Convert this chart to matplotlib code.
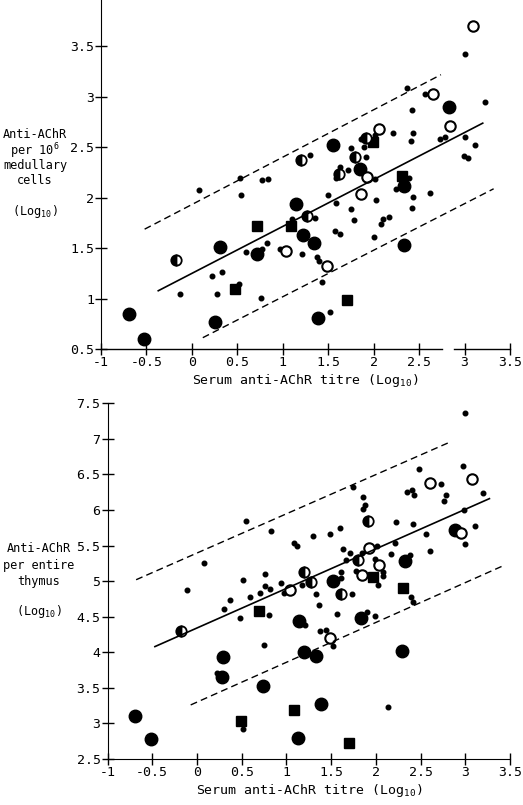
import matplotlib
matplotlib.use("Agg")
import matplotlib.pyplot as plt

plt.rcParams['font.family'] = ['DejaVu Sans Mono', 'DejaVu Sans']
plt.rcParams['mathtext.fontset'] = 'dejavusans'

# ---- top panel: anti-AChR per 10^6 medullary cells ----
top_small_x = [-0.13, 0.08, 0.22, 0.33, 0.28, 0.52, 0.53, 0.54, 0.60, 0.77, 0.83, 0.77, 0.84, 0.76,
               0.97, 1.10, 1.21, 1.30, 1.35, 1.38, 1.40, 1.43, 1.52, 1.50, 1.59, 1.57, 1.63, 1.63,
               1.59, 1.72, 1.75, 1.75, 1.78, 1.86, 1.89, 1.92, 2.01, 2.02, 2.03, 2.00, 2.08, 2.10,
               2.17, 2.21, 2.25, 2.39, 2.41, 2.42, 2.43, 2.43, 2.42, 2.37, 2.57, 2.62, 2.73, 2.79,
               3.01, 3.01, 3.12, 2.99, 3.04, 3.23]
top_small_y = [1.05, 2.08, 1.23, 1.27, 1.05, 1.15, 2.20, 2.03, 1.46, 1.49, 1.55, 2.18, 2.19, 1.01,
               1.49, 1.79, 1.44, 2.42, 1.80, 1.41, 1.37, 1.17, 0.87, 2.03, 1.95, 1.67, 1.64, 2.31,
               2.20, 2.28, 2.49, 1.89, 1.78, 2.58, 2.50, 2.40, 2.62, 2.19, 1.98, 1.61, 1.74, 1.79,
               1.81, 2.64, 2.09, 2.20, 2.56, 2.87, 2.64, 2.01, 1.90, 3.09, 3.03, 2.05, 2.58, 2.60,
               3.43, 2.60, 2.52, 2.41, 2.39, 2.95]
top_big_x = [-0.69, -0.53, 0.31, 0.25, 0.72, 1.15, 1.22, 1.34, 1.39, 1.55, 1.85, 2.33, 2.33, 2.83]
top_big_y = [0.85, 0.60, 1.51, 0.77, 1.44, 1.94, 1.63, 1.55, 0.81, 2.52, 2.29, 2.12, 1.53, 2.90]
top_sq_x = [0.47, 0.72, 1.09, 1.71, 1.99, 2.31]
top_sq_y = [1.10, 1.72, 1.72, 0.99, 2.55, 2.22]
top_open_x = [1.04, 1.49, 1.86, 1.93, 2.06, 2.65, 2.84, 3.09]
top_open_y = [1.47, 1.33, 2.04, 2.21, 2.68, 3.03, 2.71, 3.70]
top_half_x = [-0.18, 1.20, 1.27, 1.62, 1.80, 1.92]
top_half_y = [1.38, 2.38, 1.82, 2.24, 2.40, 2.59]
top_fit_x, top_fit_y = [-0.37, 3.20], [1.08, 2.74]
top_upper_x, top_upper_y = [-0.52, 2.74], [1.69, 3.22]
top_lower_x, top_lower_y = [0.12, 3.32], [0.615, 2.09]

# ---- bottom panel: anti-AChR per entire thymus ----
bot_small_x = [-0.11, 0.08, 0.22, 0.30, 0.37, 0.48, 0.52, 0.52, 0.55, 0.59, 0.70, 0.76, 0.76, 0.82,
               0.81, 0.75, 0.83, 0.94, 0.97, 1.08, 1.12, 1.18, 1.21, 1.30, 1.33, 1.37, 1.38, 1.44,
               1.49, 1.52, 1.57, 1.60, 1.61, 1.61, 1.63, 1.67, 1.71, 1.73, 1.75, 1.78, 1.85, 1.86,
               1.88, 1.86, 1.90, 1.99, 1.99, 2.01, 2.02, 2.08, 2.08, 2.14, 2.17, 2.21, 2.22, 2.35,
               2.40, 2.43, 2.38, 2.39, 2.41, 2.42, 2.48, 2.56, 2.60, 2.73, 2.78, 2.76, 2.97, 3.00,
               2.99, 3.00, 3.11, 3.20]
bot_small_y = [4.87, 5.26, 3.71, 4.61, 4.74, 4.48, 2.92, 5.02, 5.85, 4.78, 4.83, 5.10, 4.93, 4.89,
               4.53, 4.10, 5.71, 4.97, 4.84, 5.53, 5.50, 4.95, 4.38, 5.63, 4.82, 4.66, 4.30, 4.32,
               5.66, 4.09, 4.54, 5.75, 5.05, 5.13, 5.45, 5.30, 5.39, 4.82, 6.32, 5.14, 5.40, 6.18,
               6.07, 6.01, 4.57, 5.31, 4.51, 5.49, 4.94, 5.13, 5.07, 3.23, 5.38, 5.53, 5.83, 6.26,
               6.28, 6.21, 5.37, 4.78, 4.71, 5.80, 6.57, 5.66, 5.42, 6.37, 6.21, 6.13, 6.62, 7.36,
               6.00, 5.52, 5.78, 6.24]
bot_big_x = [-0.69, -0.51, 0.29, 0.28, 0.74, 1.13, 1.14, 1.20, 1.33, 1.39, 1.52, 1.83, 2.29, 2.33, 2.88]
bot_big_y = [3.10, 2.78, 3.94, 3.65, 3.52, 2.79, 4.44, 4.00, 3.95, 3.28, 5.00, 4.48, 4.02, 5.29, 5.72]
bot_sq_x = [0.49, 0.69, 1.08, 1.70, 1.97, 2.30]
bot_sq_y = [3.03, 4.58, 3.19, 2.73, 5.06, 4.91]
bot_open_x = [1.04, 1.49, 1.85, 1.92, 2.04, 2.60, 2.95, 3.08]
bot_open_y = [4.88, 4.20, 5.08, 5.46, 5.23, 6.38, 5.67, 6.43]
bot_half_x = [-0.18, 1.20, 1.28, 1.61, 1.80, 1.91]
bot_half_y = [4.30, 5.13, 4.99, 4.82, 5.30, 5.84]
bot_fit_x, bot_fit_y = [-0.47, 3.27], [4.08, 6.16]
bot_upper_x, bot_upper_y = [-0.68, 2.82], [5.02, 6.95]
bot_lower_x, bot_lower_y = [-0.07, 3.43], [3.26, 5.22]

xticks = [-1, -0.5, 0, 0.5, 1, 1.5, 2, 2.5, 3, 3.5]
xtick_labels = ['-1', '-0.5', '0', '0.5', '1', '1.5', '2', '2.5', '3', '3.5']
top_yticks = [0.5, 1, 1.5, 2, 2.5, 3, 3.5]
top_ytick_labels = ['0.5', '1', '1.5', '2', '2.5', '3', '3.5']
bot_yticks = [2.5, 3, 3.5, 4, 4.5, 5, 5.5, 6, 6.5, 7, 7.5]
bot_ytick_labels = ['2.5', '3', '3.5', '4', '4.5', '5', '5.5', '6', '6.5', '7', '7.5']

W, H = 523, 805
fig = plt.figure(figsize=(W / 100, H / 100), dpi=100)
ax1 = fig.add_axes([101 / W, 1 - 349.3 / H, 409 / W, 349.3 / H])
ax2 = fig.add_axes([107.5 / W, 1 - 759 / H, 402.5 / W, 355.7 / H])


def draw_points(ax, sx, sy, bx, by, qx, qy, ox, oy, hx, hy):
    ax.plot(sx, sy, 'o', color='black', ms=3.3, ls='none')
    ax.plot(bx, by, 'o', color='black', ms=9, ls='none')
    ax.plot(qx, qy, 's', color='black', ms=7, ls='none')
    ax.plot(ox, oy, 'o', mfc='white', mec='black', mew=1.5, ms=7.5, ls='none')
    ax.plot(hx, hy, 'o', fillstyle='left', mfc='black', mfcalt='white', mec='black',
            mew=1.3, ms=7.5, ls='none')


def style_axes(ax, yticks, ylabels):
    ax.spines['top'].set_visible(False)
    ax.spines['right'].set_visible(False)
    ax.set_xticks(xticks)
    ax.set_xticklabels(xtick_labels)
    ax.set_yticks(yticks)
    ax.set_yticklabels(ylabels)
    ax.tick_params(direction='inout', length=8, width=1, labelsize=9.5, pad=1)
    ax.set_xlim(-1, 3.5)


# top panel
draw_points(ax1, top_small_x, top_small_y, top_big_x, top_big_y, top_sq_x, top_sq_y,
            top_open_x, top_open_y, top_half_x, top_half_y)
ax1.plot(top_fit_x, top_fit_y, color='black', lw=1.2)
ax1.plot(top_upper_x, top_upper_y, color='black', lw=1, ls=(0, (5, 3)))
ax1.plot(top_lower_x, top_lower_y, color='black', lw=1, ls=(0, (5, 3)))
style_axes(ax1, top_yticks, top_ytick_labels)
ax1.set_ylim(0.5, 3.96)
# x axis with a break between 2.5 and 3
ax1.spines['bottom'].set_visible(False)
ax1.plot([-1, 2.75], [0.5, 0.5], color='black', lw=1, clip_on=False)
ax1.plot([2.88, 3.5], [0.5, 0.5], color='black', lw=1, clip_on=False)
ax1.set_xlabel('Serum anti-AChR titre (Log$_{\\mathregular{10}}$)', fontsize=9.5, labelpad=2)

# bottom panel
draw_points(ax2, bot_small_x, bot_small_y, bot_big_x, bot_big_y, bot_sq_x, bot_sq_y,
            bot_open_x, bot_open_y, bot_half_x, bot_half_y)
ax2.plot(bot_fit_x, bot_fit_y, color='black', lw=1.2)
ax2.plot(bot_upper_x, bot_upper_y, color='black', lw=1, ls=(0, (5, 3)))
ax2.plot(bot_lower_x, bot_lower_y, color='black', lw=1, ls=(0, (5, 3)))
style_axes(ax2, bot_yticks, bot_ytick_labels)
ax2.set_ylim(2.5, 7.5)
ax2.set_xlabel('Serum anti-AChR titre (Log$_{\\mathregular{10}}$)', fontsize=9.5, labelpad=2)

# y labels as stacked lines
top_lines = ['Anti-AChR', 'per 10$^{\\mathregular{6}}$', 'medullary', 'cells', '(Log$_{\\mathregular{10}}$)']
top_line_y = [135, 151, 166, 181, 211]
for txt, py in zip(top_lines, top_line_y):
    fig.text(35 / W, 1 - py / H, txt, ha='center', va='center', fontsize=8.6)

bot_lines = ['Anti-AChR', 'per entire', 'thymus', '(Log$_{\\mathregular{10}}$)']
bot_line_y = [548, 565, 581, 611]
for txt, py in zip(bot_lines, bot_line_y):
    fig.text(39 / W, 1 - py / H, txt, ha='center', va='center', fontsize=8.6)

fig.savefig('out.png', dpi=100)
